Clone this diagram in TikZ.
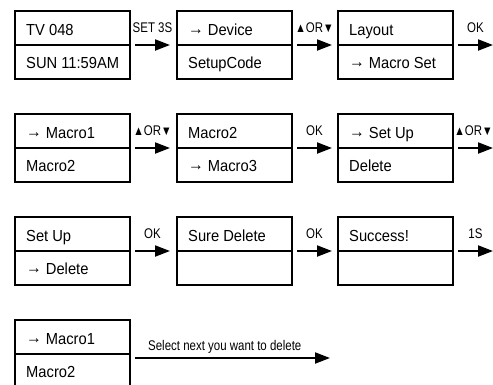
\documentclass[tikz,border=0pt]{standalone}
\usepackage{fontspec}
\setmainfont[FakeStretch=0.92]{Liberation Sans}
\newfontfamily\lblfont[FakeStretch=0.82]{Liberation Sans}
\usetikzlibrary{arrows.meta}
\newcommand\sarr{\raisebox{1pt}{\fontsize{17}{17}\selectfont →}}
\newcommand\updn{{\fontsize{13}{13}\selectfont ▲}OR{\fontsize{13}{13}\selectfont ▼}}
\newcommand\lcdbox[4]{%
  \node[lcd] (#1) at (#2) {};
  \draw[divider] (#1.west) -- (#1.east);
  \node[btxt] (#1-t) at ([xshift=11pt,yshift=-24pt]#1.north west) {#3};
  \node[btxt] (#1-b) at ([xshift=11pt,yshift=-57pt]#1.north west) {#4};
}
\begin{document}
\begin{tikzpicture}[x=1pt,y=-1pt,
  lcd/.style={draw, line width=2pt, minimum width=115pt, minimum height=68pt, inner sep=0pt, outer sep=0pt},
  divider/.style={line width=2pt},
  btxt/.style={anchor=base west, inner sep=0pt, font=\fontsize{16}{16}\selectfont},
  arr/.style={line width=2pt, -{Triangle[length=15pt,width=11pt]}},
  lbl/.style={midway, anchor=base, inner sep=0pt, yshift=13pt, font=\lblfont\fontsize{14}{14}\selectfont}]
\useasboundingbox (0,0) rectangle (493,384);
% row 1
\lcdbox{b1}{72.5,45}{TV 048}{SUN 11:59AM}
\lcdbox{b2}{234.5,45}{\sarr\ Device}{SetupCode}
\lcdbox{b3}{395.5,45}{Layout}{\sarr\ Macro Set}
\coordinate (e1) at (493,45);
\draw[arr] ([xshift=5pt]b1.east) -- ([xshift=-7pt]b2.west) node[lbl] {SET 3S};
\draw[arr] ([xshift=5pt]b2.east) -- ([xshift=-6pt]b3.west) node[lbl] {\updn};
\draw[arr] ([xshift=5pt]b3.east) -- (e1) node[lbl] {OK};
% row 2
\lcdbox{b4}{72.5,148}{\sarr\ Macro1}{Macro2}
\lcdbox{b5}{234.5,148}{Macro2}{\sarr\ Macro3}
\lcdbox{b6}{395.5,148}{\sarr\ Set Up}{Delete}
\coordinate (e2) at (493,148);
\draw[arr] ([xshift=5pt]b4.east) -- ([xshift=-7pt]b5.west) node[lbl] {\updn};
\draw[arr] ([xshift=5pt]b5.east) -- ([xshift=-6pt]b6.west) node[lbl] {OK};
\draw[arr] ([xshift=5pt]b6.east) -- (e2) node[lbl, xshift=-2pt] {\updn};
% row 3
\lcdbox{b7}{72.5,251}{Set Up}{\sarr\ Delete}
\lcdbox{b8}{234.5,251}{Sure Delete}{}
\lcdbox{b9}{395.5,251}{Success!}{}
\coordinate (e3) at (493,251);
\draw[arr] ([xshift=5pt]b7.east) -- ([xshift=-7pt]b8.west) node[lbl] {OK};
\draw[arr] ([xshift=5pt]b8.east) -- ([xshift=-6pt]b9.west) node[lbl] {OK};
\draw[arr] ([xshift=5pt]b9.east) -- (e3) node[lbl] {1S};
% row 4
\lcdbox{b10}{72.5,354}{\sarr\ Macro1}{Macro2}
\coordinate (s4) at (135,358);
\coordinate (e4) at (330,358);
\draw[arr] (s4) -- (e4);
\node[anchor=base west, inner sep=0pt, font=\lblfont\fontsize{14}{14}\selectfont] (l4) at (148,350) {Select next you want to delete};
\end{tikzpicture}
\end{document}
